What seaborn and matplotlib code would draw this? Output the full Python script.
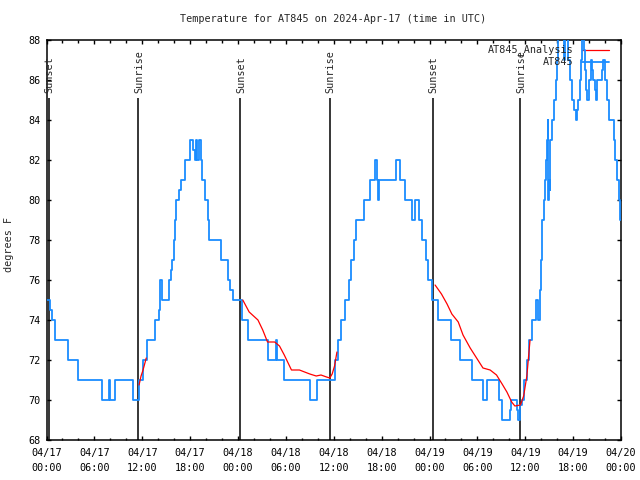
import pandas as pd
import matplotlib
matplotlib.use('Agg')
import matplotlib.pyplot as plt
import seaborn as sns
from matplotlib.ticker import MultipleLocator

# hours since 04/17 00:00 UTC, temperature in F (step data)
at845_hours = [0.0, 0.45, 0.7, 1.05, 2.7, 4.0, 7.0, 7.8, 7.95, 8.55, 10.85, 11.65,
               12.15, 12.6, 13.6, 14.05, 14.25, 14.45, 15.3, 15.55, 15.75, 15.95,
               16.1, 16.25, 16.6, 16.8, 17.3, 17.95, 18.4, 18.55, 18.7, 18.85, 19.15,
               19.35, 19.55, 19.85, 20.25, 20.4, 21.85, 22.75, 23.05, 23.4, 24.55,
               25.3, 27.7, 28.7, 28.9, 29.75, 33.05, 33.85, 36.1, 36.5, 36.95, 37.45,
               37.9, 38.2, 38.5, 38.85, 39.75, 40.55, 41.2, 41.4, 41.55, 41.7, 43.75,
               44.3, 44.9, 45.8, 46.15, 46.65, 47.1, 47.5, 47.85, 48.3, 49.05, 50.65,
               51.85, 53.35, 54.75, 55.25, 56.65, 57.05, 58.05, 58.25, 58.95, 59.1,
               59.35, 59.6, 59.9, 60.2, 60.5, 60.9, 61.3, 61.6, 61.8, 62.0, 62.15,
               62.3, 62.45, 62.6, 62.7, 62.8, 62.85, 62.95, 63.05, 63.1, 63.4, 63.6,
               63.85, 64.0, 64.15, 64.9, 65.0, 65.3, 65.55, 65.8, 66.1, 66.3, 66.45,
               66.6, 66.85, 67.0, 67.15, 67.35, 67.5, 67.65, 67.8, 68.0, 68.2, 68.4,
               68.55, 68.7, 68.85, 69.0, 69.6, 69.8, 69.95, 70.2, 70.5, 71.15, 71.3,
               71.5, 71.7, 71.9, 72.0]
at845_temp = [75, 74.5, 74, 73, 72, 71, 70, 71, 70, 71, 70, 71,
              72, 73, 74, 74.5, 76, 75, 76, 76.5, 77, 78,
              79, 80, 80.5, 81, 82, 83, 82.5, 82, 83, 82, 83,
              82, 81, 80, 79, 78, 77, 76, 75.5, 75, 74,
              73, 72, 73, 72, 71, 70, 71, 72, 73, 74, 75,
              76, 77, 78, 79, 80, 81, 82, 81, 80, 81, 82,
              81, 80, 79, 80, 79, 78, 77, 76, 75, 74, 73,
              72, 71, 70, 71, 70, 69, 69.5, 70, 69.5, 69,
              69.75, 70, 71, 72, 73, 74, 75, 74, 75.5, 77, 79,
              80, 81, 82, 83, 84, 80, 81, 80.5, 83, 84, 85,
              86, 87, 89, 87, 89, 87, 86, 85, 84.5, 84, 84.5,
              85, 86, 87, 89, 87.5, 86.5, 85.5, 85, 86, 87, 86.5,
              86, 85.5, 85, 86, 86.5, 87, 86, 85, 84, 83, 82,
              81, 80, 79, 79]

analysis_hours = [11.6, 11.85, 12.1, 12.5,
                  24.6, 25.4, 26.5, 27.1, 27.7, 28.6, 29.2, 29.8, 30.7, 31.7, 33.0,
                  33.8, 34.4, 35.1, 35.5, 35.8, 36.1, 36.4,
                  48.7, 49.5, 50.2, 50.8, 51.6, 52.2, 53.1, 53.9, 54.7, 55.6, 56.4,
                  57.1, 57.7, 58.3, 58.7, 59.4, 59.8, 60.2, 60.6]
analysis_temp = [70.75, 71.2, 71.5, 72.1,
                 75.0, 74.4, 74.0, 73.5, 72.9, 72.9, 72.7, 72.25, 71.5, 71.5, 71.3,
                 71.2, 71.25, 71.15, 71.1, 71.3, 71.7, 72.4,
                 75.75, 75.3, 74.8, 74.3, 73.9, 73.25, 72.6, 72.1, 71.6, 71.5, 71.25,
                 70.8, 70.4, 69.9, 69.7, 69.75, 70.2, 71.2, 73.0]
analysis_seg = [1] * 4 + [2] * 18 + [3] * 19

sunset_hours = [0.27, 24.3, 48.4]
sunrise_hours = [11.49, 35.5, 59.4]

xtick_hours = list(range(0, 73, 6))
xtick_labels = ['04/17\n00:00', '04/17\n06:00', '04/17\n12:00', '04/17\n18:00',
                '04/18\n00:00', '04/18\n06:00', '04/18\n12:00', '04/18\n18:00',
                '04/19\n00:00', '04/19\n06:00', '04/19\n12:00', '04/19\n18:00',
                '04/20\n00:00']

blue = '#1a8cff'
fs = 7.3

sns.set_style('ticks')
plt.rcParams['font.family'] = ['DejaVu Sans Mono', 'DejaVu Sans']
plt.rcParams['font.size'] = fs

fig = plt.figure(figsize=(6.4, 4.8), dpi=100)
ax = fig.add_axes([46.5 / 640, 40 / 480, (621 - 46.5) / 640, 400 / 480])

obs = pd.DataFrame({'hours': at845_hours, 'temp': at845_temp})
ana = pd.DataFrame({'hours': analysis_hours, 'temp': analysis_temp, 'seg': analysis_seg})

sns.lineplot(data=obs, x='hours', y='temp', drawstyle='steps-post', color=blue,
             lw=1.3, estimator=None, legend=False, ax=ax, zorder=3)
sns.lineplot(data=ana, x='hours', y='temp', units='seg', estimator=None, color='red',
             lw=0.9, legend=False, ax=ax, zorder=4)

# sunrise / sunset markers
for h in sunset_hours:
    ax.vlines(h, 68, 85.1, color='black', lw=1.1, zorder=2)
    ax.text(h + 0.1, 85.35, 'Sunset', rotation=90, ha='center', va='bottom', fontsize=fs)
for h in sunrise_hours:
    ax.vlines(h, 68, 85.1, color='black', lw=1.1, zorder=2)
    ax.text(h + 0.1, 85.35, 'Sunrise', rotation=90, ha='center', va='bottom', fontsize=fs)

ax.set_xlim(0, 72)
ax.set_ylim(68, 88)
ax.set_xticks(xtick_hours)
ax.set_xticklabels(xtick_labels)
for lab in ax.get_xticklabels():
    lab.set_linespacing(1.55)
ax.xaxis.set_minor_locator(MultipleLocator(2))
ax.set_yticks(range(68, 89, 2))
ax.tick_params(which='both', direction='in', top=True, right=True, width=1, colors='black')
ax.tick_params(which='major', length=3.2)
ax.tick_params(which='minor', length=1.8)
ax.tick_params(axis='x', pad=6)
ax.tick_params(axis='y', pad=4)
for s in ax.spines.values():
    s.set_linewidth(1.1)
    s.set_color('black')

ax.set_xlabel('')
ax.set_ylabel('degrees F', fontsize=fs)
ax.yaxis.set_label_coords(-0.056, 0.49)

# gnuplot-style key, text right-justified before the sample line
ax.text(0.918, 0.976, 'AT845_Analysis', transform=ax.transAxes, ha='right', va='center', fontsize=fs)
ax.plot([0.932, 0.979], [0.976, 0.976], transform=ax.transAxes, color='red', lw=0.9)
ax.text(0.918, 0.944, 'AT845', transform=ax.transAxes, ha='right', va='center', fontsize=fs)
ax.plot([0.932, 0.979], [0.944, 0.944], transform=ax.transAxes, color=blue, lw=1.3)

fig.text(333 / 640, 1 - 19 / 480, 'Temperature for AT845 on 2024-Apr-17 (time in UTC)',
         ha='center', va='center', fontsize=fs)

plt.savefig('out.png', dpi=100)
plt.close()
